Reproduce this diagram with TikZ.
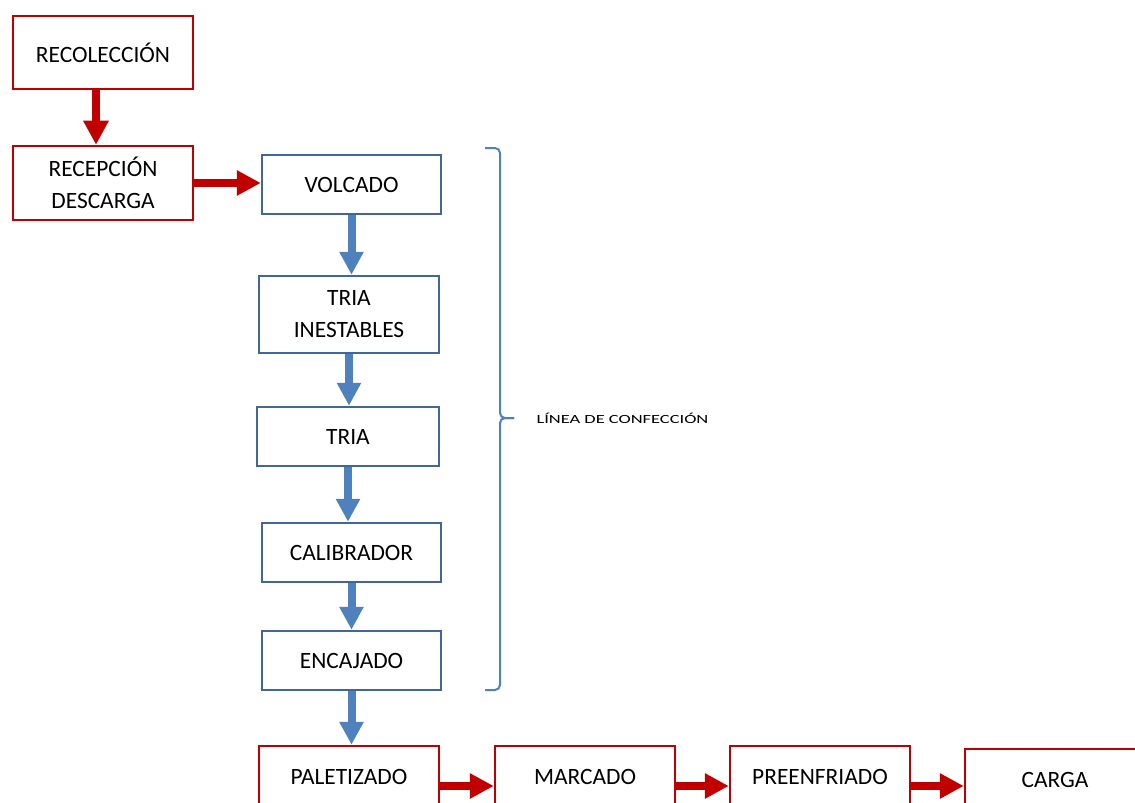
\documentclass[tikz,border=0pt]{standalone}
\usepackage{fontspec}
\setmainfont{Carlito}
\usetikzlibrary{arrows.meta,positioning}
\definecolor{boxred}{HTML}{C00000}
\definecolor{boxblue}{HTML}{41679A}
\definecolor{flowblue}{HTML}{4F81BD}

\begin{document}
\begin{tikzpicture}[x=1bp,y=-1bp,
  box/.style={rectangle,fill=white,line width=2.5bp,minimum width=180bp,align=center,
    font=\fontsize{23.5}{32}\selectfont},
  red node/.style={box,draw=boxred},
  blue node/.style={box,draw=boxblue},
  low node/.style={red node,inner ysep=0pt,text height=38bp,text depth=42bp},
  red arrow/.style={-{Triangle[length=24bp,width=24bp]},color=boxred,line width=8bp},
  blue arrow/.style={-{Triangle[length=23bp,width=23bp]},color=flowblue,line width=8bp}]

  \useasboundingbox (0,0) rectangle (1135,803);

  \node[red node,minimum height=73bp] (1) at (103,52.5) {RECOLECCIÓN};
  \node[red node,minimum height=74bp] (2) at (103,183) {RECEPCIÓN\\DESCARGA};
  \node[blue node,minimum width=179bp,minimum height=59bp] (3) at (351.5,184.5) {VOLCADO};
  \node[blue node,minimum height=77bp] (4) at (349,314.5) {TRIA\\INESTABLES};
  \node[blue node,minimum width=182bp,minimum height=59bp] (5) at (348,436.5) {TRIA};
  \node[blue node,minimum width=179bp,minimum height=59bp] (6) at (351.5,552.5) {CALIBRADOR};
  \node[blue node,minimum width=179bp,minimum height=59bp] (7) at (351.5,660.5) {ENCAJADO};
  \node[low node] (8) at (349,786) {PALETIZADO};
  \node[low node] (9) at (585,786) {MARCADO};
  \node[low node] (10) at (820,786) {PREENFRIADO};
  \node[low node] (11) at (1055,789) {CARGA};

  \path[red arrow]
    ([xshift=-7bp]1.south) edge ([xshift=-7bp]2.north)
    (2.east) edge (2.east -| 3.west)
    (8.east) edge (8.east -| 9.west)
    (9.east) edge (9.east -| 10.west)
    (10.east) edge (10.east -| 11.west);

  \path[blue arrow]
    (3.south) edge (3.south |- 4.north)
    (4.south) edge (4.south |- 5.north)
    (5.south) edge (5.south |- 6.north)
    (6.south) edge (6.south |- 7.north)
    (7.south) edge (7.south |- 8.north);

  % brace round the packing line
  \coordinate (tip) at (514,418);
  \draw[flowblue,line width=2bp,rounded corners=5bp] (485,148) -| (500,418) -- (tip);
  \draw[flowblue,line width=2bp,rounded corners=5bp] (tip) -- (500,418) |- (485,690);
  \node[anchor=west,font=\fontsize{12.5}{14}\selectfont] (linea) at (533,418)
    {\scalebox{1.48}[1]{LÍNEA DE CONFECCIÓN}};
\end{tikzpicture}
\end{document}
